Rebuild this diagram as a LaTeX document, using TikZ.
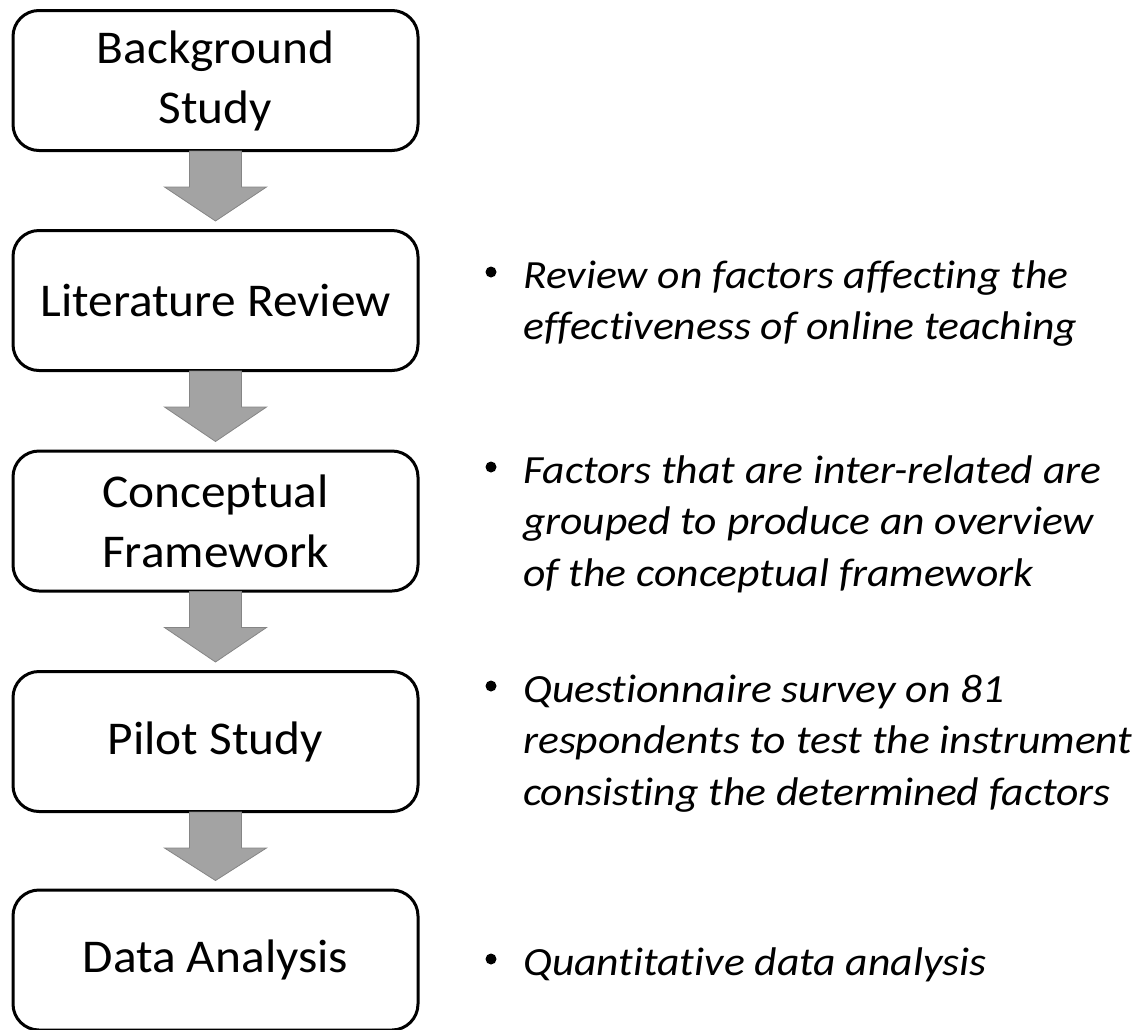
\documentclass[tikz,border=0pt]{standalone}
\usepackage{fontspec}
\setmainfont{Carlito}
\newfontfamily\boxfont[FakeStretch=1.05]{Carlito}
\newfontfamily\notefont[FakeStretch=1.09,Ligatures=NoCommon]{Carlito}
\usetikzlibrary{calc}
\tikzset{
  stepbox/.style={draw=black, line width=3pt, rounded corners=26pt, fill=white,
    minimum width=405pt, minimum height=140pt, inner sep=0pt, align=center,
    font=\boxfont\fontsize{47}{60}\selectfont},
  blockarrow/.style={fill=black!36, draw=black!48, line width=0.8pt},
  note/.style={anchor=base west, inner sep=0pt, align=left,
    font=\notefont\fontsize{40}{51.5}\selectfont\itshape},
  bullet/.style={circle, fill=black, inner sep=0pt, minimum size=11pt}
}
\newcommand{\blockarr}[2]{%
  \draw[blockarrow] ($(#1.south)+(-26,-1)$) -- ($(#1.south)+(-26,35)$) -- ($(#1.south)+(-51,35)$)
    -- ($(#2.north)+(0,-8)$) -- ($(#1.south)+(51,35)$) -- ($(#1.south)+(26,35)$)
    -- ($(#1.south)+(26,-1)$) -- cycle;}
\begin{document}
\begin{tikzpicture}[x=1pt,y=-1pt]
\useasboundingbox (0,0) rectangle (1146,1029);
\node[stepbox] (b1) at (215.5,80.5) {Background\\Study};
\node[stepbox] (b2) at (215.5,300.5) {Literature Review};
\node[stepbox] (b3) at (215.5,521) {Conceptual\\Framework};
\node[stepbox] (b4) at (215.5,741.5) {Pilot Study};
\node[stepbox] (b5) at (215.5,960) {Data Analysis};
\blockarr{b1}{b2}
\blockarr{b2}{b3}
\blockarr{b3}{b4}
\blockarr{b4}{b5}
\node[bullet] (d2) at (491,272) {};
\node[note] (t2) at (523,339.5) {Review on factors affecting the\\effectiveness of online teaching};
\node[bullet] (d3) at (491,467) {};
\node[note] (t3) at (523,586) {Factors that are inter-related are\\grouped to produce an overview\\of the conceptual framework};
\node[bullet] (d4) at (491,686) {};
\node[note] (t4) at (523,805) {Questionnaire survey on 81\\respondents to test the instrument\\consisting the determined factors};
\node[bullet] (d5) at (491,959) {};
\node[note] (t5) at (523,975) {Quantitative data analysis};
\end{tikzpicture}
\end{document}
